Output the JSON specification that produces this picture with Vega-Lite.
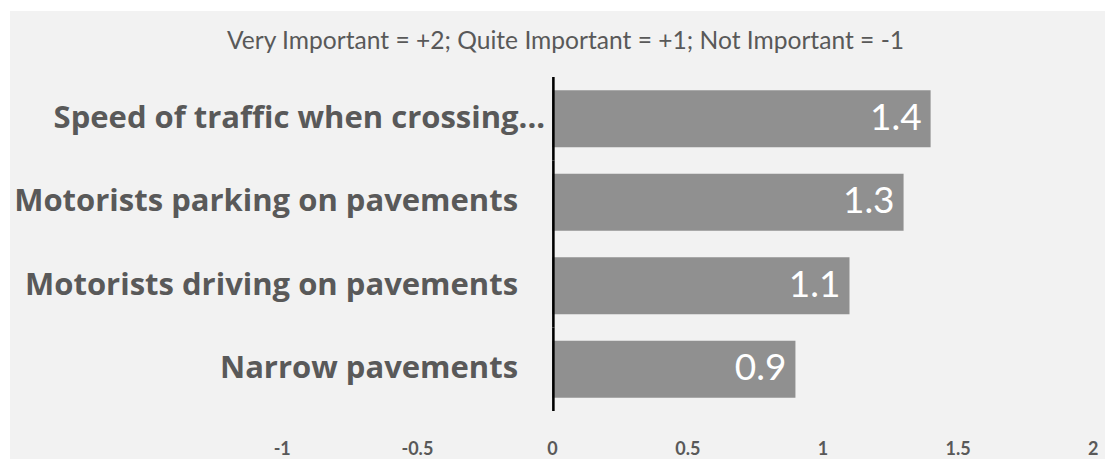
{
  "$schema": "https://vega.github.io/schema/vega-lite/v6.json",
  "width": 1095,
  "height": 448,
  "autosize": {"type": "none"},
  "padding": {"left": 10, "top": 11, "right": 0, "bottom": 0},
  "background": "white",
  "config": {"view": {"fill": "#f2f2f2", "stroke": null}, "font": "Lato"},
  "title": {
    "text": "Very Important = +2; Quite Important = +1; Not Important = -1",
    "fontSize": 24.6,
    "fontWeight": "normal",
    "color": "#595959",
    "font": "Lato",
    "anchor": "middle",
    "dx": 8,
    "offset": -44
  },
  "data": {
    "values": [
      {"issue": "Speed of traffic when crossing...", "score": 1.4},
      {"issue": "Motorists parking on pavements", "score": 1.3},
      {"issue": "Motorists driving on pavements", "score": 1.1},
      {"issue": "Narrow pavements", "score": 0.9}
    ]
  },
  "encoding": {
    "y": {
      "field": "issue",
      "type": "nominal",
      "sort": null,
      "scale": {"paddingInner": 0, "paddingOuter": 0.6826, "align": 0.579},
      "axis": null
    }
  },
  "layer": [
    {
      "mark": {"type": "bar", "color": "#909090", "height": {"band": 0.683}},
      "encoding": {
        "x": {
          "field": "score",
          "type": "quantitative",
          "scale": {"domain": [-2.005, 2.045], "nice": false, "zero": false},
          "axis": {
            "values": [-1, -0.5, 0, 0.5, 1, 1.5, 2],
            "labelExpr": "datum.value + ''",
            "domain": false,
            "ticks": false,
            "grid": false,
            "title": null,
            "offset": -21,
            "labelFontSize": 18,
            "labelFontWeight": "bold",
            "labelColor": "#595959",
            "labelPadding": 2,
            "labelFlush": false,
            "labelFont": "Lato"
          }
        }
      }
    },
    {
      "mark": {"type": "bar", "color": "black", "height": {"band": 1}},
      "encoding": {"x": {"datum": 0}, "x2": {"datum": 0.0095}}
    },
    {
      "transform": [{"filter": "indexof(datum.issue, '...') >= 0"}],
      "mark": {"type": "text", "align": "right", "baseline": "middle", "dx": -7, "fontSize": 31, "fontWeight": "bold", "color": "#595959", "font": "Open Sans"},
      "encoding": {"x": {"datum": 0}, "text": {"field": "issue"}}
    },
    {
      "transform": [{"filter": "indexof(datum.issue, '...') < 0"}],
      "mark": {"type": "text", "align": "right", "baseline": "middle", "dx": -34, "fontSize": 31, "fontWeight": "bold", "color": "#595959", "font": "Open Sans"},
      "encoding": {"x": {"datum": 0}, "text": {"field": "issue"}}
    },
    {
      "mark": {"type": "text", "align": "right", "baseline": "middle", "dx": -9, "fontSize": 37, "color": "white"},
      "encoding": {
        "x": {"field": "score", "type": "quantitative"},
        "text": {"field": "score", "type": "quantitative", "format": ".1f"}
      }
    }
  ]
}
